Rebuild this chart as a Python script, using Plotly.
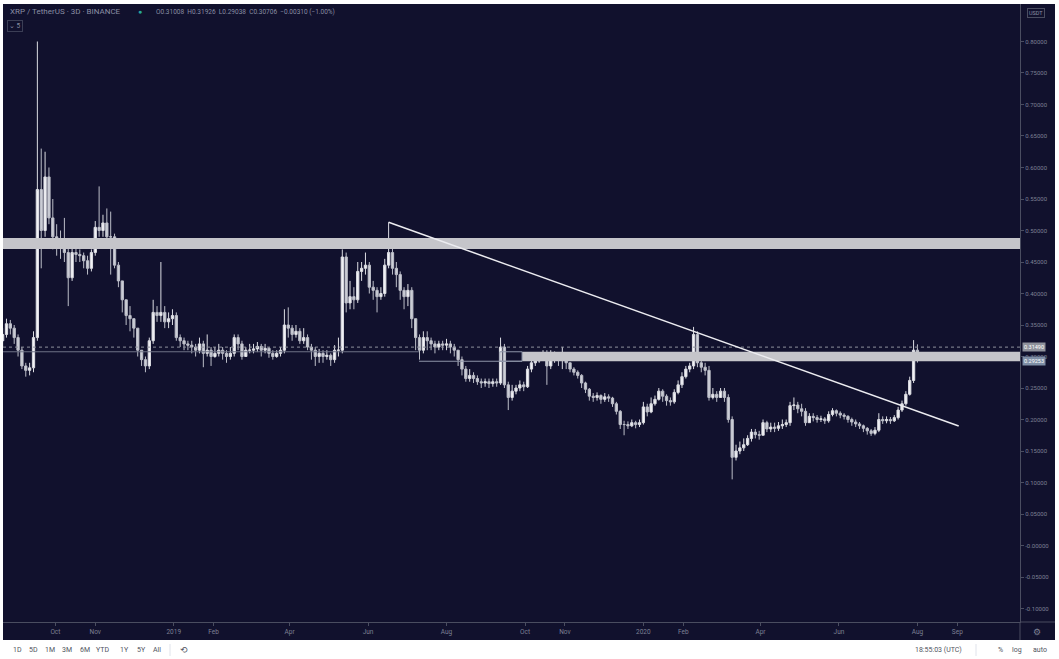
import plotly.graph_objects as go
import pandas as pd

# ---------------- data (XRP / USDT, 3D candles, Binance) ----------------
last_candle_date = "2020-08-01"
first_open = 0.325

closes = [
    0.335, 0.352, 0.345, 0.330, 0.310, 0.285, 0.278, 0.282, 0.330, 0.565,
    0.500, 0.585, 0.520, 0.490, 0.485, 0.475, 0.465, 0.425, 0.465, 0.462,
    0.460, 0.452, 0.440, 0.465, 0.505, 0.500, 0.512, 0.490, 0.490, 0.445,
    0.420, 0.390, 0.365, 0.360, 0.345, 0.310, 0.295, 0.285, 0.325, 0.370,
    0.365, 0.370, 0.355, 0.360, 0.365, 0.330, 0.325, 0.320, 0.318, 0.315,
    0.310, 0.320, 0.305, 0.310, 0.300, 0.305, 0.310, 0.305, 0.300, 0.305,
    0.330, 0.320, 0.300, 0.310, 0.310, 0.312, 0.316, 0.310, 0.313, 0.305,
    0.300, 0.305, 0.310, 0.350, 0.345, 0.335, 0.340, 0.325, 0.330, 0.315,
    0.310, 0.300, 0.305, 0.300, 0.302, 0.295, 0.310, 0.310, 0.458, 0.385,
    0.395, 0.390, 0.435, 0.440, 0.445, 0.410, 0.405, 0.395, 0.400, 0.445,
    0.465, 0.440, 0.430, 0.405, 0.395, 0.405, 0.360, 0.330, 0.310, 0.330,
    0.325, 0.320, 0.315, 0.320, 0.318, 0.320, 0.315, 0.310, 0.295, 0.280,
    0.265, 0.270, 0.265, 0.260, 0.258, 0.260, 0.257, 0.260, 0.258, 0.315,
    0.255, 0.235, 0.245, 0.250, 0.255, 0.252, 0.280, 0.290, 0.293, 0.298,
    0.302, 0.285, 0.300, 0.300, 0.295, 0.300, 0.290, 0.280, 0.275, 0.270,
    0.258, 0.248, 0.237, 0.235, 0.238, 0.232, 0.236, 0.234, 0.225, 0.213,
    0.192, 0.192, 0.190, 0.195, 0.192, 0.195, 0.220, 0.212, 0.225, 0.232,
    0.245, 0.237, 0.230, 0.228, 0.243, 0.255, 0.268, 0.280, 0.285, 0.335,
    0.290, 0.283, 0.278, 0.235, 0.240, 0.235, 0.245, 0.235, 0.200, 0.140,
    0.150, 0.155, 0.160, 0.170, 0.180, 0.176, 0.175, 0.195, 0.185, 0.188,
    0.186, 0.190, 0.192, 0.195, 0.222, 0.223, 0.217, 0.213, 0.195, 0.205,
    0.203, 0.200, 0.201, 0.198, 0.208, 0.214, 0.210, 0.207, 0.205, 0.200,
    0.196, 0.193, 0.190, 0.186, 0.182, 0.178, 0.183, 0.200, 0.198, 0.200,
    0.198, 0.203, 0.215, 0.225, 0.240, 0.262, 0.31008, 0.30706,
]
highs = [
    0.345, 0.360, 0.358, 0.350, 0.335, 0.315, 0.290, 0.290, 0.340, 0.800,
    0.630, 0.625, 0.600, 0.550, 0.510, 0.500, 0.520, 0.475, 0.480, 0.475,
    0.470, 0.465, 0.460, 0.470, 0.515, 0.570, 0.525, 0.535, 0.530, 0.495,
    0.450, 0.420, 0.390, 0.380, 0.360, 0.345, 0.310, 0.300, 0.330, 0.390,
    0.380, 0.450, 0.380, 0.370, 0.375, 0.370, 0.335, 0.330, 0.325, 0.325,
    0.320, 0.330, 0.325, 0.335, 0.315, 0.315, 0.320, 0.315, 0.310, 0.315,
    0.335, 0.335, 0.325, 0.315, 0.320, 0.320, 0.323, 0.320, 0.320, 0.315,
    0.310, 0.310, 0.315, 0.375, 0.378, 0.350, 0.350, 0.345, 0.345, 0.335,
    0.320, 0.315, 0.312, 0.310, 0.310, 0.305, 0.318, 0.330, 0.470, 0.465,
    0.420, 0.410, 0.450, 0.450, 0.465, 0.450, 0.420, 0.410, 0.410, 0.455,
    0.513, 0.475, 0.450, 0.435, 0.410, 0.415, 0.410, 0.360, 0.335, 0.340,
    0.340, 0.330, 0.325, 0.325, 0.325, 0.328, 0.325, 0.320, 0.310, 0.300,
    0.285, 0.280, 0.275, 0.270, 0.265, 0.265, 0.265, 0.265, 0.265, 0.330,
    0.320, 0.260, 0.255, 0.255, 0.262, 0.260, 0.285, 0.295, 0.300, 0.305,
    0.310, 0.310, 0.310, 0.308, 0.305, 0.315, 0.300, 0.290, 0.283, 0.278,
    0.272, 0.260, 0.250, 0.242, 0.243, 0.240, 0.242, 0.240, 0.236, 0.228,
    0.215, 0.198, 0.197, 0.200, 0.198, 0.200, 0.228, 0.225, 0.235, 0.238,
    0.250, 0.248, 0.240, 0.235, 0.248, 0.262, 0.275, 0.285, 0.290, 0.347,
    0.340, 0.295, 0.290, 0.285, 0.250, 0.245, 0.250, 0.250, 0.240, 0.205,
    0.160, 0.165, 0.170, 0.175, 0.185, 0.185, 0.182, 0.200, 0.198, 0.195,
    0.195, 0.196, 0.200, 0.200, 0.228, 0.235, 0.228, 0.225, 0.218, 0.210,
    0.210, 0.207, 0.206, 0.204, 0.213, 0.218, 0.216, 0.213, 0.210, 0.207,
    0.203, 0.200, 0.196, 0.192, 0.188, 0.185, 0.188, 0.210, 0.205, 0.205,
    0.204, 0.207, 0.220, 0.230, 0.245, 0.268, 0.326, 0.31926,
]
lows = [
    0.315, 0.330, 0.335, 0.320, 0.300, 0.280, 0.268, 0.270, 0.275, 0.325,
    0.440, 0.490, 0.510, 0.470, 0.460, 0.455, 0.450, 0.380, 0.420, 0.450,
    0.450, 0.440, 0.430, 0.435, 0.460, 0.490, 0.490, 0.480, 0.430, 0.440,
    0.410, 0.370, 0.350, 0.340, 0.330, 0.300, 0.285, 0.275, 0.280, 0.320,
    0.355, 0.355, 0.345, 0.345, 0.350, 0.325, 0.315, 0.310, 0.310, 0.305,
    0.300, 0.305, 0.283, 0.300, 0.285, 0.298, 0.300, 0.295, 0.290, 0.295,
    0.300, 0.310, 0.295, 0.300, 0.305, 0.305, 0.307, 0.300, 0.305, 0.298,
    0.295, 0.298, 0.300, 0.305, 0.330, 0.325, 0.330, 0.320, 0.320, 0.310,
    0.295, 0.285, 0.290, 0.290, 0.295, 0.285, 0.290, 0.300, 0.305, 0.370,
    0.375, 0.375, 0.385, 0.420, 0.430, 0.400, 0.390, 0.370, 0.390, 0.395,
    0.440, 0.430, 0.410, 0.390, 0.375, 0.380, 0.345, 0.310, 0.295, 0.305,
    0.310, 0.310, 0.305, 0.310, 0.310, 0.310, 0.305, 0.300, 0.285, 0.270,
    0.260, 0.260, 0.258, 0.255, 0.250, 0.252, 0.250, 0.252, 0.252, 0.255,
    0.250, 0.215, 0.230, 0.240, 0.245, 0.245, 0.250, 0.275, 0.285, 0.290,
    0.295, 0.255, 0.280, 0.290, 0.285, 0.280, 0.280, 0.275, 0.270, 0.265,
    0.250, 0.242, 0.230, 0.228, 0.230, 0.225, 0.228, 0.228, 0.220, 0.208,
    0.185, 0.175, 0.185, 0.188, 0.186, 0.188, 0.192, 0.205, 0.210, 0.222,
    0.230, 0.228, 0.222, 0.222, 0.225, 0.240, 0.250, 0.265, 0.275, 0.280,
    0.283, 0.275, 0.270, 0.230, 0.232, 0.228, 0.235, 0.228, 0.195, 0.105,
    0.135, 0.145, 0.150, 0.158, 0.165, 0.170, 0.168, 0.175, 0.180, 0.180,
    0.180, 0.182, 0.185, 0.188, 0.190, 0.215, 0.210, 0.205, 0.190, 0.195,
    0.197, 0.195, 0.196, 0.193, 0.195, 0.205, 0.205, 0.202, 0.200, 0.195,
    0.190, 0.188, 0.185, 0.180, 0.176, 0.174, 0.175, 0.180, 0.193, 0.194,
    0.193, 0.196, 0.200, 0.212, 0.222, 0.238, 0.258, 0.29038,
]
opens = [first_open] + closes[:-1]
dates = pd.date_range(end=last_candle_date, periods=len(closes), freq="3D")

# drawings
upper_band = [0.4706, 0.4880]
lower_band = [0.2925, 0.3075]
trend_end = ["2020-09-02 02:00", 0.1897]
level_split_date = "2019-07-10 14:00"
band_start_date = "2019-09-28 17:00"
box_start_date = "2019-09-11 12:00"
last_price = 0.31490
band_price = 0.29253

x_range = ["2018-08-21 07:00", "2020-10-19 17:00"]
y_range = [-0.1214, 0.8595]

y_ticks = [-0.10, -0.05, 0.0, 0.05, 0.10, 0.15, 0.20, 0.25, 0.30, 0.35,
           0.40, 0.45, 0.50, 0.55, 0.60, 0.65, 0.70, 0.75, 0.80]
y_tick_text = ["-0.10000", "-0.05000", "-0.00000", "0.05000", "0.10000",
               "0.15000", "0.20000", "0.25000", "0.30000", "0.35000",
               "0.40000", "0.45000", "0.50000", "0.55000", "0.60000",
               "0.65000", "0.70000", "0.75000", "0.80000"]
x_ticks = ["2018-10-01", "2018-11-01", "2019-01-01", "2019-02-01", "2019-04-01",
           "2019-06-01", "2019-08-01", "2019-10-01", "2019-11-01", "2020-01-01",
           "2020-02-01", "2020-04-01", "2020-06-01", "2020-08-01", "2020-09-01"]
x_tick_text = ["Oct", "Nov", "2019", "Feb", "Apr", "Jun", "Aug", "Oct", "Nov",
               "2020", "Feb", "Apr", "Jun", "Aug", "Sep"]

range_buttons = ["1D", "5D", "1M", "3M", "6M", "YTD", "1Y", "5Y", "All"]
range_button_x = [17, 33, 50, 67, 85, 102, 124, 141, 157]

# ---------------- styling / layout helpers ----------------
W, H = 1059, 659
ML, MR, MT, MB = 3, 39, 4, 37
BG = "#11112d"
AX_TXT = "#7d8094"
AX_LINE = "#4a4d60"
FONT = "Roboto"


def px(x):
    return (x - ML) / (W - ML - MR)


def py(y):
    return (H - MB - y) / (H - MT - MB)


fig = go.Figure()
fig.add_trace(go.Candlestick(
    x=dates, open=opens, high=highs, low=lows, close=closes,
    increasing=dict(line=dict(color="#dcdde3", width=1), fillcolor="#f2f2f6"),
    decreasing=dict(line=dict(color="#bcbec8", width=1), fillcolor="#cdcfd7"),
    whiskerwidth=0, hoverinfo="skip", showlegend=False,
))

shapes = []
# horizontal zones
shapes.append(dict(type="rect", xref="paper", yref="y", x0=0, x1=1,
                   y0=upper_band[0], y1=upper_band[1], fillcolor="#c5c5ca",
                   line=dict(width=0), layer="above"))
shapes.append(dict(type="rect", xref="x", yref="y", x0=band_start_date, x1=x_range[1],
                   y0=lower_band[0], y1=lower_band[1], fillcolor="#c5c5ca",
                   line=dict(width=0), layer="above"))
shapes.append(dict(type="rect", xref="x", yref="y", x0=box_start_date, x1=band_start_date,
                   y0=lower_band[0], y1=lower_band[1], fillcolor="rgba(0,0,0,0)",
                   line=dict(width=1, color="#8e95a8"), layer="above"))
shapes.append(dict(type="line", xref="x", yref="y", x0=x_range[0], x1=level_split_date,
                   y0=lower_band[1], y1=lower_band[1],
                   line=dict(width=1, color="#6f7386")))
shapes.append(dict(type="line", xref="x", yref="y", x0=level_split_date, x1=band_start_date,
                   y0=lower_band[0], y1=lower_band[0],
                   line=dict(width=1.2, color="#8e95a8")))
# current price dotted line
shapes.append(dict(type="line", xref="paper", yref="y", x0=0, x1=1,
                   y0=last_price, y1=last_price,
                   line=dict(width=1, color="#8d909c", dash="dot")))
# trend line from the June 2019 high
shapes.append(dict(type="line", xref="x", yref="y", x0=dates[100], y0=highs[100],
                   x1=trend_end[0], y1=trend_end[1],
                   line=dict(width=1.5, color="#ececf0"), layer="above"))
# frame pieces outside the plot
shapes.append(dict(type="line", xref="paper", yref="paper", x0=px(1020), x1=px(1055),
                   y0=py(622), y1=py(622), line=dict(width=1, color=AX_LINE)))
shapes.append(dict(type="line", xref="paper", yref="paper", x0=px(1020), x1=px(1020),
                   y0=py(622), y1=py(640), line=dict(width=1, color=AX_LINE)))
# white page around the chart + bottom toolbar
for (x0, y0, x1, y1) in [(0, 640, 1059, 659), (0, 0, 3, 659), (1055, 0, 1059, 659), (0, 0, 1059, 4)]:
    shapes.append(dict(type="rect", xref="paper", yref="paper", x0=px(x0), x1=px(x1),
                       y0=py(y1), y1=py(y0), fillcolor="#ffffff", line=dict(width=0),
                       layer="above"))
shapes.append(dict(type="line", xref="paper", yref="paper", x0=px(170), x1=px(170),
                   y0=py(644), y1=py(656), line=dict(width=1, color="#e0e3eb")))
shapes.append(dict(type="line", xref="paper", yref="paper", x0=px(976), x1=px(976),
                   y0=py(644), y1=py(656), line=dict(width=1, color="#e0e3eb")))

ann = []


def note(x, y, text, size=7, color=AX_TXT, anchor="center", **kw):
    ann.append(dict(xref="paper", yref="paper", x=px(x), y=py(y), text=text,
                    showarrow=False, xanchor=anchor, yanchor="middle",
                    font=dict(family=FONT, size=size, color=color), **kw))


note(8, 12, "XRP / TetherUS · 3D · BINANCE", size=8, color="#8a8ea3", anchor="left")
note(140, 12, "●", size=7, color="#26a69a")
note(154, 12, "O0.31008  H0.31926  L0.29038  C0.30706  −0.00310 (−1.00%)",
     size=6.5, color="#8a8ea3", anchor="left")
note(15, 26, "⌄ 5", size=6.5, color="#8a8ea3", bordercolor="#3b3e55", borderwidth=1,
     borderpad=1)
note(1036, 13, "USDT", size=5.5, color="#8a8ea3", bordercolor="#4a4d60", borderwidth=1,
     borderpad=1)
note(1037, 632, "⚙", size=9, color="#7d8094")

for lbl, xx in zip(range_buttons, range_button_x):
    note(xx, 650, lbl, size=7, color="#50535e")
note(184, 650, "⟲", size=9, color="#50535e")
note(938, 650, "18:55:03 (UTC)", size=7, color="#50535e")
note(1000, 650, "%", size=7, color="#50535e")
note(1017, 650, "log", size=7, color="#50535e")
note(1040, 650, "auto", size=7, color="#50535e")

# price tags on the axis
ann.append(dict(xref="paper", yref="y", x=px(1022), y=last_price, text="0.31490",
                showarrow=False, xanchor="left", yanchor="middle",
                font=dict(family=FONT, size=5.5, color="#ffffff"),
                bgcolor="#8f929c", borderpad=1))
ann.append(dict(xref="paper", yref="y", x=px(1022), y=band_price, text="0.29253",
                showarrow=False, xanchor="left", yanchor="middle",
                font=dict(family=FONT, size=5.5, color="#ffffff"),
                bgcolor="#7e8ea6", borderpad=1))

fig.update_layout(
    width=W, height=H,
    margin=dict(l=ML, r=MR, t=MT, b=MB, pad=0),
    paper_bgcolor=BG, plot_bgcolor=BG,
    font=dict(family=FONT, size=6.5, color=AX_TXT),
    showlegend=False, boxgap=0.15,
    shapes=shapes, annotations=ann,
    xaxis=dict(type="date", range=x_range, rangeslider=dict(visible=False),
               showgrid=False, zeroline=False, showline=True, linecolor=AX_LINE,
               linewidth=1, ticks="outside", ticklen=3, tickcolor=AX_LINE,
               tickvals=x_ticks, ticktext=x_tick_text,
               tickfont=dict(family=FONT, size=6.5, color=AX_TXT)),
    yaxis=dict(range=y_range, side="right", showgrid=False, zeroline=False,
               showline=True, linecolor=AX_LINE, linewidth=1, ticks="outside",
               ticklen=3, tickcolor=AX_LINE, tickvals=y_ticks, ticktext=y_tick_text,
               tickfont=dict(family=FONT, size=6, color=AX_TXT)),
    hovermode=False,
)

fig.write_html("out.html", config={"displayModeBar": False},
               post_script="document.body.style.margin='0';")
